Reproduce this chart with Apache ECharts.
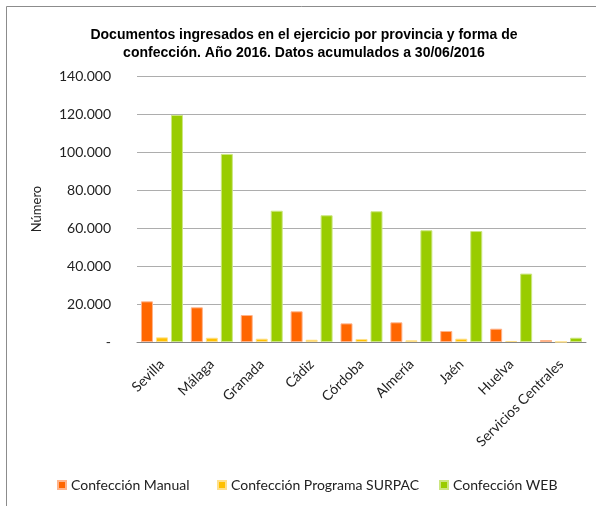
<!DOCTYPE html>
<html>
<head>
<meta charset="utf-8">
<script src="https://cdn.jsdelivr.net/npm/echarts@6/dist/echarts.min.js"></script>
<style>
  html, body { margin: 0; padding: 0; background: #fff; }
  #chart { width: 596px; height: 506px; }
</style>
</head>
<body>
<div id="chart"></div>
<script>
// Documents filed per province and filing method, first half of 2016
const provincias = ['Sevilla', 'Málaga', 'Granada', 'Cádiz', 'Córdoba', 'Almería', 'Jaén', 'Huelva', 'Servicios Centrales'];
const confeccionManual = [21400, 18250, 14200, 16150, 9800, 10350, 5800, 7000, 1050];
const confeccionSurpac = [2450, 2250, 1750, 1200, 1600, 900, 1750, 550, 50];
const confeccionWeb = [119500, 99000, 69100, 66700, 68800, 58800, 58400, 36000, 2250];
const nombresSeries = ['Confección Manual', 'Confección Programa SURPAC', 'Confección WEB'];
const coloresSeries = ['#FF6600', '#FFC000', '#99CC00'];
const bordesSeries = ['#FFB38A', '#FFE08A', '#CCE680'];
const legendLeft = [52, 212, 434];

const font = 'Lato, "Open Sans", sans-serif';

function formatoMiles(v) {
  if (v === 0) return '-';
  return String(v).replace(/\B(?=(\d{3})+(?!\d))/g, '.');
}

const chart = echarts.init(document.getElementById('chart'), null, { renderer: 'canvas' });

const valores = [confeccionManual, confeccionSurpac, confeccionWeb];

chart.setOption({
  animation: false,
  backgroundColor: '#fff',
  title: {
    text: 'Documentos ingresados en el ejercicio por provincia y forma de\nconfección. Año 2016. Datos acumulados a 30/06/2016',
    left: 299,
    textAlign: 'center',
    top: 21,
    textStyle: {
      fontFamily: '"Liberation Sans Narrow", "Liberation Sans", Arial, sans-serif',
      fontWeight: 'bold',
      fontSize: 14,
      lineHeight: 18,
      color: '#000'
    }
  },
  // one legend block per series so each entry sits at its own spot
  legend: nombresSeries.map((n, i) => ({
    data: [n],
    left: legendLeft[i],
    bottom: 9,
    itemWidth: 8,
    itemHeight: 8,
    icon: 'rect',
    textStyle: { fontFamily: font, fontSize: 14, color: '#222' }
  })),
  grid: { left: 137, right: 10, top: 76, bottom: 164, containLabel: false },
  xAxis: {
    type: 'category',
    data: provincias,
    axisLine: { lineStyle: { color: '#868686', width: 1 } },
    axisTick: { show: false },
    axisLabel: {
      rotate: 45,
      interval: 0,
      margin: 20,
      fontFamily: font,
      fontSize: 14,
      color: '#222'
    }
  },
  yAxis: {
    type: 'value',
    min: 0,
    max: 140000,
    interval: 20000,
    name: 'Número',
    nameLocation: 'middle',
    nameGap: 94,
    nameTextStyle: { fontFamily: font, fontSize: 13, color: '#222' },
    axisLine: { show: false },
    axisTick: { show: false },
    splitLine: { lineStyle: { color: '#ADADAD', width: 1 } },
    axisLabel: {
      margin: 26,
      formatter: formatoMiles,
      fontFamily: font,
      fontSize: 14,
      color: '#222'
    }
  },
  series: nombresSeries.map((n, i) => ({
    name: n,
    type: 'bar',
    data: valores[i],
    barWidth: 12,
    barGap: '25%',
    itemStyle: { color: coloresSeries[i], borderColor: bordesSeries[i], borderWidth: 1 }
  })),
  graphic: [
    { type: 'line', shape: { x1: 6.5, y1: 6.5, x2: 596, y2: 6.5 }, style: { stroke: '#8C8C8C', lineWidth: 1 } },
    { type: 'line', shape: { x1: 6.5, y1: 6.5, x2: 6.5, y2: 506 }, style: { stroke: '#8C8C8C', lineWidth: 1 } }
  ]
});
</script>
</body>
</html>
